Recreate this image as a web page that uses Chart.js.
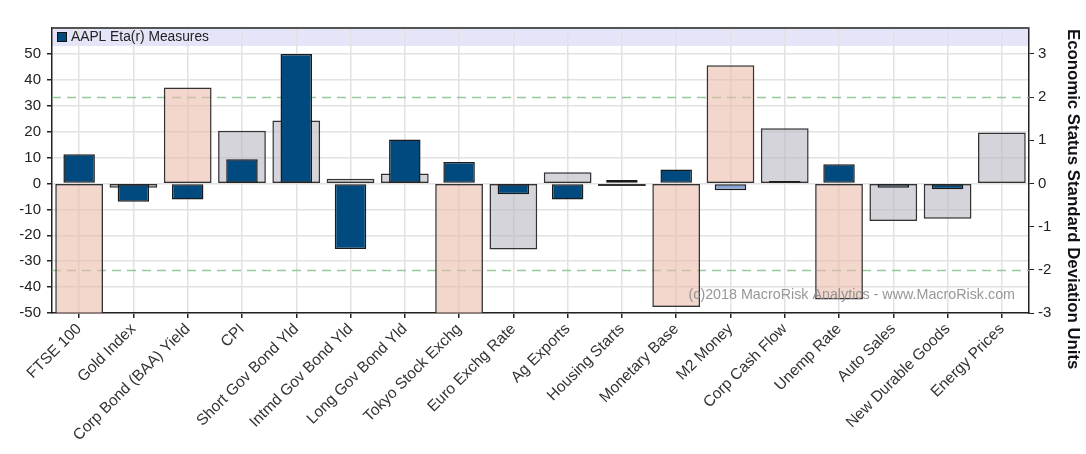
<!DOCTYPE html>
<html>
<head>
<meta charset="utf-8">
<script src="https://cdn.jsdelivr.net/npm/chart.js@4.4.1/dist/chart.umd.min.js"></script>
<style>
  html, body { margin: 0; padding: 0; background: #ffffff; }
  #wrap { width: 1086px; height: 454px; }
</style>
</head>
<body>
<div id="wrap"><canvas id="c" width="1086" height="454"></canvas></div>
<script>
// ---- data ----
const categories = [
  "FTSE 100", "Gold Index", "Corp Bond (BAA) Yield", "CPI", "Short Gov Bond Yld",
  "Intmd Gov Bond Yld", "Long Gov Bond Yld", "Tokyo Stock Exchg", "Euro Exchg Rate",
  "Ag Exports", "Housing Starts", "Monetary Base", "M2 Money", "Corp Cash Flow",
  "Unemp Rate", "Auto Sales", "New Durable Goods", "Energy Prices"
];
// AAPL Eta(r) measures (left axis)
const etaValues = [11.3, -7.1, -6.2, 9.3, 50.0, -25.3, 17.0, 8.3, -4.2, -6.2, 1.3, 5.4, -2.6, 0.9, 7.4, -1.7, -2.2, null];
// Economic status standard deviation units (right axis)
const sdValues = [-3.05, -0.10, 2.22, 1.22, 1.46, 0.11, 0.23, -3.05, -1.53, 0.26, -0.06, -2.86, 2.74, 1.28, -2.69, -0.87, -0.82, 1.18];
// which eta bars are drawn in the light shade
const etaLight = [false, false, false, false, false, false, false, false, false, false, false, false, true, true, false, true, false, false];
const leftTicks = [-50, -40, -30, -20, -10, 0, 10, 20, 30, 40, 50];
const rightTicks = [-3, -2, -1, 0, 1, 2, 3];
const thresholdLines = [2, -2];
const legendLabel = "AAPL Eta(r) Measures";
const rightTitle = "Economic Status Standard Deviation Units";
const watermark = "(c)2018 MacroRisk Analytics - www.MacroRisk.com";

// ---- styles ----
const FONT = "'Liberation Sans', Arial, sans-serif";
const DARK_BLUE = "rgb(0,74,128)";
const LIGHT_BLUE = "rgb(135,165,215)";
const PINK = "rgba(235,187,170,0.6)";
const GRAY = "rgba(183,183,193,0.6)";

const etaColors = etaLight.map(l => l ? LIGHT_BLUE : DARK_BLUE);
const sdColors = sdValues.map(v => Math.abs(v) > 2 ? PINK : GRAY);

const decorPlugin = {
  id: 'decor',
  beforeDraw(chart) {
    const {ctx, chartArea: a} = chart;
    ctx.save();
    ctx.fillStyle = "rgb(229,229,250)";
    ctx.fillRect(a.left, a.top, a.right - a.left, 18);
    ctx.restore();
  },
  beforeDatasetsDraw(chart) {
    const {ctx, chartArea: a, scales} = chart;
    ctx.save();
    ctx.strokeStyle = "rgba(140,190,140,0.85)";
    ctx.lineWidth = 1.3;
    ctx.setLineDash([9, 6]);
    thresholdLines.forEach(v => {
      const y = Math.round(scales.y1.getPixelForValue(v)) + 0.5;
      ctx.beginPath();
      ctx.moveTo(a.left, y);
      ctx.lineTo(a.right, y);
      ctx.stroke();
    });
    ctx.restore();
  },
  afterDatasetsDraw(chart) {
    const {ctx, chartArea: a} = chart;
    ctx.save();
    // watermark
    ctx.font = "14.3px " + FONT;
    ctx.fillStyle = "rgba(140,140,140,0.9)";
    ctx.textAlign = "right";
    ctx.textBaseline = "middle";
    ctx.fillText(watermark, a.right - 14, a.bottom - 18);
    // top frame
    ctx.strokeStyle = "#555";
    ctx.lineWidth = 2;
    ctx.beginPath();
    ctx.moveTo(a.left, a.top);
    ctx.lineTo(a.right, a.top);
    ctx.stroke();
    // legend
    ctx.fillStyle = DARK_BLUE;
    ctx.fillRect(a.left + 5, a.top + 4, 10, 10);
    ctx.strokeStyle = "#111";
    ctx.lineWidth = 1;
    ctx.strokeRect(a.left + 5.5, a.top + 4.5, 9, 9);
    ctx.fillStyle = "#222";
    ctx.font = "13.8px " + FONT;
    ctx.textAlign = "left";
    ctx.textBaseline = "middle";
    ctx.fillText(legendLabel, a.left + 19, a.top + 9.5);
    // right title
    ctx.translate(1073, a.top + 1);
    ctx.rotate(Math.PI / 2);
    ctx.font = "bold 16.8px " + FONT;
    ctx.fillStyle = "#111";
    ctx.textAlign = "left";
    ctx.textBaseline = "middle";
    ctx.fillText(rightTitle, 0, 0);
    ctx.restore();
  }
};

new Chart(document.getElementById('c'), {
  type: 'bar',
  data: {
    labels: categories,
    datasets: [
      {
        label: legendLabel,
        data: etaValues,
        yAxisID: 'y',
        backgroundColor: etaColors,
        borderColor: "#1a1a1a",
        borderWidth: 1.5,
        borderSkipped: false,
        barPercentage: 0.58,
        categoryPercentage: 1,
        grouped: false,
        order: 0
      },
      {
        label: "SD",
        data: sdValues,
        yAxisID: 'y1',
        backgroundColor: sdColors,
        borderColor: "#333",
        borderWidth: 1.5,
        borderSkipped: false,
        barPercentage: 0.88,
        categoryPercentage: 1,
        grouped: false,
        order: 1
      }
    ]
  },
  options: {
    responsive: false,
    animation: false,
    devicePixelRatio: 1,
    layout: { padding: { top: 28, left: 0, right: 0, bottom: 0 } },
    plugins: { legend: { display: false }, tooltip: { enabled: false } },
    scales: {
      x: {
        grid: { offset: false, color: "#e2e2e2", lineWidth: 1.5, tickColor: "#222", tickLength: 5 },
        border: { color: "#222", width: 1.5 },
        ticks: {
          autoSkip: false, minRotation: 45, maxRotation: 45, padding: 2,
          color: "#333", font: { family: FONT, size: 15.5 }
        },
        afterFit(s) { s.height = 141; }
      },
      y: {
        position: 'left',
        min: -50, max: 60,
        grid: { color: "#e2e2e2", lineWidth: 1.5, tickColor: "#222", tickLength: 5 },
        border: { color: "#222", width: 1.5 },
        ticks: { color: "#222", padding: 6, font: { family: FONT, size: 15 } },
        afterBuildTicks(s) { s.ticks = leftTicks.map(v => ({ value: v })); },
        afterFit(s) { s.width = 52; }
      },
      y1: {
        position: 'right',
        min: -3, max: 3.6,
        grid: { drawOnChartArea: false, tickColor: "#222", tickLength: 5 },
        border: { color: "#222", width: 1.5 },
        ticks: { color: "#222", padding: 4, font: { family: FONT, size: 15 } },
        afterBuildTicks(s) { s.ticks = rightTicks.map(v => ({ value: v })); },
        afterFit(s) { s.width = 57; }
      }
    }
  },
  plugins: [decorPlugin]
});
</script>
</body>
</html>
